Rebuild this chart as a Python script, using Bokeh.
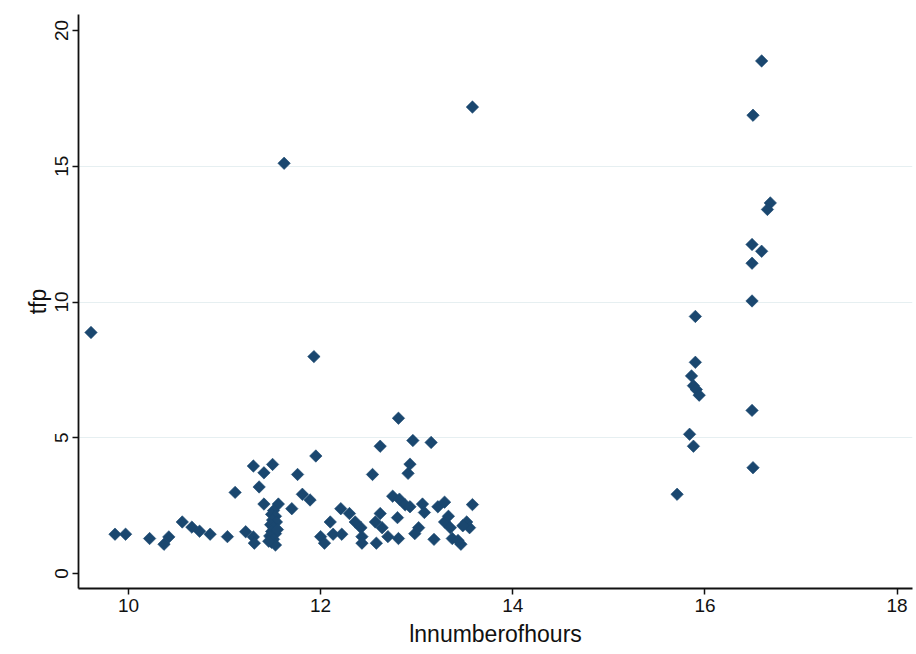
from bokeh.plotting import figure
from bokeh.models import FixedTicker, Range1d
from bokeh.embed import file_html
from bokeh.resources import INLINE
import numpy as np

# log of number of hours (x) and total factor productivity (y)
ln_hours = [
    9.61, 11.62, 13.58, 11.93,
    16.59, 16.50, 16.68, 16.65, 16.49, 16.59, 16.49, 16.49,
    15.90, 15.90, 15.86, 15.88, 15.91, 15.94, 16.49, 15.84, 15.88, 16.50, 15.71,
    9.86, 9.97, 10.22, 10.37, 10.42, 10.56, 10.66, 10.74, 10.85, 11.03,
    11.11, 11.22, 11.30, 11.31, 11.30, 11.41, 11.50, 11.36, 11.41, 11.56,
    11.51, 11.49, 11.53, 11.50, 11.54, 11.48, 11.51, 11.49, 11.53, 11.47,
    11.51, 11.49, 11.53, 11.46, 11.55,
    11.70, 11.76, 11.81, 11.89, 11.95, 12.00, 12.04, 12.10, 12.13, 12.22,
    12.21, 12.30, 12.36, 12.42, 12.43, 12.43, 12.54, 12.57, 12.58, 12.62,
    12.62, 12.64, 12.70, 12.75, 12.80, 12.81, 12.81, 12.82, 12.88, 12.91,
    12.93, 12.96, 12.93, 12.98, 13.02, 13.06, 13.08, 13.15, 13.18, 13.22,
    13.29, 13.29, 13.33, 13.35, 13.37, 13.46, 13.43, 13.52, 13.55, 13.58,
    13.48,
]
tfp = [
    8.88, 15.11, 17.18, 7.99,
    18.88, 16.88, 13.65, 13.41, 12.12, 11.87, 11.43, 10.04,
    9.47, 7.78, 7.28, 6.92, 6.78, 6.57, 6.01, 5.13, 4.69, 3.90, 2.92,
    1.45, 1.45, 1.29, 1.08, 1.35, 1.90, 1.71, 1.56, 1.45, 1.36,
    2.99, 1.54, 1.35, 1.12, 3.96, 3.71, 4.02, 3.19, 2.56, 2.56,
    2.32, 2.18, 2.11, 1.97, 1.90, 1.80, 1.69, 1.55, 1.47, 1.38,
    1.26, 1.15, 1.05, 1.19, 1.62,
    2.39, 3.65, 2.92, 2.71, 4.33, 1.36, 1.12, 1.90, 1.45, 1.45,
    2.39, 2.21, 1.90, 1.69, 1.36, 1.12, 3.65, 1.90, 1.12, 2.21,
    4.69, 1.69, 1.36, 2.85, 2.06, 5.72, 1.29, 2.74, 2.53, 3.69,
    4.03, 4.90, 2.46, 1.47, 1.69, 2.56, 2.25, 4.83, 1.26, 2.46,
    2.63, 1.90, 2.11, 1.69, 1.29, 1.08, 1.22, 1.90, 1.69, 2.54,
    1.76,
]

x_ticks = [10, 12, 14, 16, 18]
y_ticks = [0, 5, 10, 15, 20]
grid_at = [5, 10, 15]

FONT = "Liberation Sans"
INK = "#111111"
MARK = "#1a476f"

p = figure(
    width=916, height=654,
    output_backend="svg", toolbar_location=None,
    x_range=Range1d(9.48, 18.16), y_range=Range1d(-0.55, 20.59),
    min_border_left=78, min_border_right=4,
    min_border_top=14, min_border_bottom=66,
    background_fill_color="white", border_fill_color="white",
)
p.outline_line_color = None

# axes
for ax in (p.xaxis[0], p.yaxis[0]):
    ax.axis_line_color = INK
    ax.axis_line_width = 1.8
    ax.major_tick_line_color = INK
    ax.major_tick_line_width = 1.5
    ax.major_tick_out = 6
    ax.major_tick_in = 0
    ax.minor_tick_line_color = None
    ax.major_label_text_font = FONT
    ax.major_label_text_font_size = "19px"
    ax.major_label_text_color = INK
    ax.axis_label_text_font = FONT
    ax.axis_label_text_font_size = "23px"
    ax.axis_label_text_font_style = "normal"
    ax.axis_label_text_color = INK

p.xaxis.ticker = FixedTicker(ticks=x_ticks)
p.yaxis.ticker = FixedTicker(ticks=y_ticks)
p.xaxis.axis_label = "lnnumberofhours"
p.yaxis.axis_label = "tfp"
p.yaxis.major_label_orientation = "vertical"
p.xaxis.major_label_standoff = 4
p.yaxis.major_label_standoff = 4
p.xaxis.axis_label_standoff = 6
p.yaxis.axis_label_standoff = 2

# light horizontal grid at interior ticks only
p.xgrid.visible = False
p.ygrid.ticker = FixedTicker(ticks=grid_at)
p.ygrid.grid_line_color = "#e6eff1"
p.ygrid.grid_line_width = 1.2

# diamond markers
p.scatter(ln_hours, tfp, marker="square", angle=np.pi / 4, size=8.8,
          fill_color=MARK, line_color=MARK, line_width=0.6)

open("out.html", "w").write(file_html(p, INLINE))
